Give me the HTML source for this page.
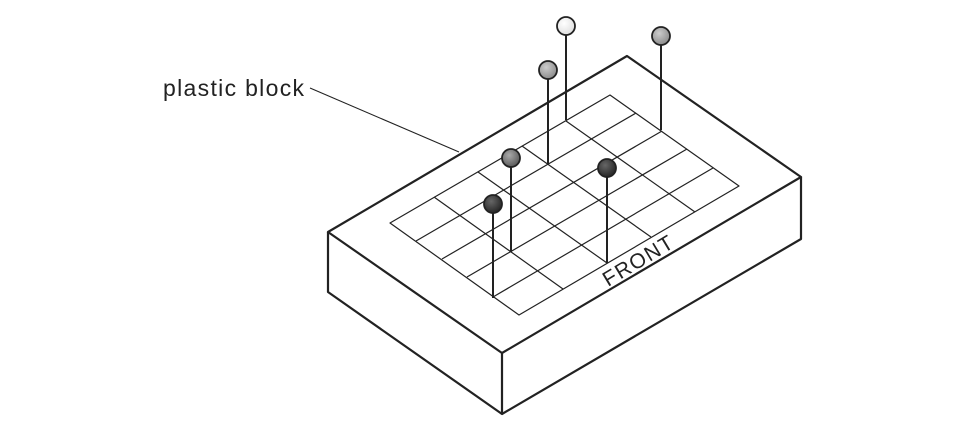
<!DOCTYPE html>
<html><head><meta charset="utf-8"><style>
html,body{margin:0;padding:0;background:#fff;}
svg{display:block;}
</style></head><body>
<svg width="973" height="439" viewBox="0 0 973 439" xmlns="http://www.w3.org/2000/svg">
<defs>
<radialGradient id="g1" cx="0.4" cy="0.35" r="0.7"><stop offset="0" stop-color="#666"/><stop offset="1" stop-color="#222"/></radialGradient>
<radialGradient id="g2" cx="0.4" cy="0.35" r="0.7"><stop offset="0" stop-color="#aaa"/><stop offset="1" stop-color="#555"/></radialGradient>
<radialGradient id="g3" cx="0.4" cy="0.35" r="0.7"><stop offset="0" stop-color="#ccc"/><stop offset="1" stop-color="#888"/></radialGradient>
<radialGradient id="g4" cx="0.4" cy="0.35" r="0.7"><stop offset="0" stop-color="#fff"/><stop offset="1" stop-color="#ddd"/></radialGradient>
</defs>
<g fill="none" stroke="#222" stroke-linejoin="round">
<polygon points="328,232 627,56 801,177 502,353" stroke-width="2.2" fill="#fff"/>
<polyline points="328,232 328,292 502,414 801,239 801,177" stroke-width="2.2"/>
<line x1="502" y1="353" x2="502" y2="414" stroke-width="2.2"/>
<g stroke-width="1.2">
<polygon points="390,223 610,95 739,186 519,315"/>
<line x1="434" y1="197" x2="563" y2="289"/>
<line x1="478" y1="172" x2="607" y2="263"/>
<line x1="522" y1="146" x2="651" y2="237"/>
<line x1="566" y1="121" x2="695" y2="212"/>
<line x1="416" y1="241" x2="636" y2="113"/>
<line x1="442" y1="259" x2="662" y2="131"/>
<line x1="467" y1="277" x2="687" y2="149"/>
<line x1="493" y1="297" x2="713" y2="168"/>
</g>
<line x1="310" y1="88" x2="459" y2="152" stroke-width="1.1"/>
<g stroke-width="2">
<line x1="493" y1="204" x2="493" y2="298"/>
<line x1="511" y1="158" x2="511" y2="252"/>
<line x1="548" y1="70" x2="548" y2="165"/>
<line x1="566" y1="26" x2="566" y2="120"/>
<line x1="661" y1="36" x2="661" y2="130"/>
<line x1="607" y1="168" x2="607" y2="263"/>
</g>
<g stroke-width="1.8">
<circle cx="493" cy="204" r="9" fill="url(#g1)"/>
<circle cx="511" cy="158" r="9" fill="url(#g2)"/>
<circle cx="548" cy="70" r="9" fill="url(#g3)"/>
<circle cx="566" cy="26" r="9" fill="url(#g4)"/>
<circle cx="661" cy="36" r="9" fill="url(#g3)"/>
<circle cx="607" cy="168" r="9" fill="url(#g1)"/>
</g>
</g>
<text x="163" y="96" font-family="Liberation Sans, sans-serif" font-size="23" fill="#222" textLength="141">plastic block</text>
<text x="0" y="0" font-family="Liberation Sans, sans-serif" font-size="21" fill="#222" transform="translate(608,287) rotate(-31)" textLength="78">FRONT</text>
</svg>
</body></html>
